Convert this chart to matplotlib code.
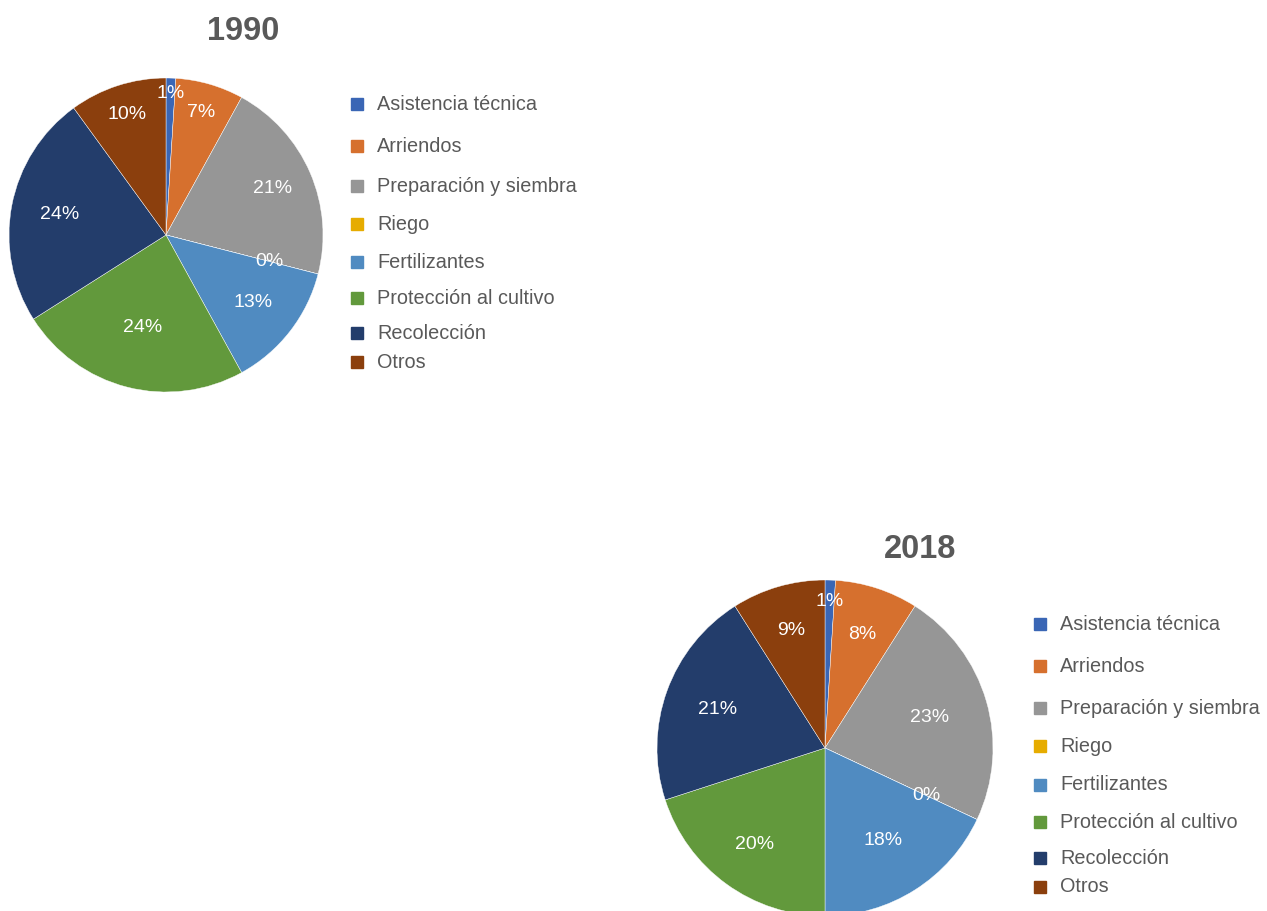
import numpy as np
import matplotlib.pyplot as plt
from matplotlib.patches import Rectangle

plt.rcParams['font.family'] = ['Liberation Sans', 'DejaVu Sans']

categories = ["Asistencia técnica", "Arriendos", "Preparación y siembra", "Riego",
              "Fertilizantes", "Protección al cultivo", "Recolección", "Otros"]
shares_1990 = [1, 7, 21, 0, 13, 24, 24, 10]
shares_2018 = [1, 8, 23, 0, 18, 20, 21, 9]

colors = ["#3A66B5", "#D6702E", "#969696", "#E6AC00",
          "#508BC1", "#62993C", "#233D6B", "#8B3F0D"]

W, H = 1267, 911
TXT = "#595959"


def pie_panel(fig, values, title, cx, cy, r, label_r, title_xy, leg_x, leg_ys):
    ax = fig.add_axes([(cx - r) / W, 1 - (cy + r) / H, 2 * r / W, 2 * r / H])
    # Riego is 0 and would be dropped by pie, so give it a tiny width
    vals = [v if v > 0 else 1e-6 for v in values]
    wedges, _ = ax.pie(vals, colors=colors, startangle=90, counterclock=False,
                       radius=1, wedgeprops=dict(edgecolor="white", linewidth=0.3))
    for w, v, f in zip(wedges, values, label_r):
        a = np.deg2rad((w.theta1 + w.theta2) / 2)
        ax.text(f * np.cos(a), f * np.sin(a), f"{v}%", ha="center", va="center",
                color="white", fontsize=14)
    ax.set_xlim(-1, 1)
    ax.set_ylim(-1, 1)
    ax.axis("off")

    fig.text(title_xy[0] / W, 1 - title_xy[1] / H, title, ha="center", va="center",
             fontsize=23.5, fontweight="bold", color=TXT)

    for name, c, y in zip(categories, colors, leg_ys):
        fig.patches.append(Rectangle(((leg_x - 6) / W, 1 - (y + 6) / H), 12 / W, 12 / H,
                                     transform=fig.transFigure, color=c))
        fig.text((leg_x + 20) / W, 1 - y / H, name, ha="left", va="center",
                 fontsize=14.3, color=TXT)


fig = plt.figure(figsize=(W / 100, H / 100), dpi=100)

pie_panel(fig, shares_1990, "1990", 166, 235, 157,
          [0.90, 0.81, 0.74, 0.68, 0.70, 0.61, 0.69, 0.81],
          (243, 31), 357, [104, 146, 186, 224, 262, 298, 333, 362])

pie_panel(fig, shares_2018, "2018", 825, 748, 168,
          [0.875, 0.71, 0.65, 0.67, 0.65, 0.71, 0.68, 0.73],
          (920, 549), 1040, [624, 666, 708, 746, 785, 822, 858, 887])

fig.savefig("out.png", dpi=100)
